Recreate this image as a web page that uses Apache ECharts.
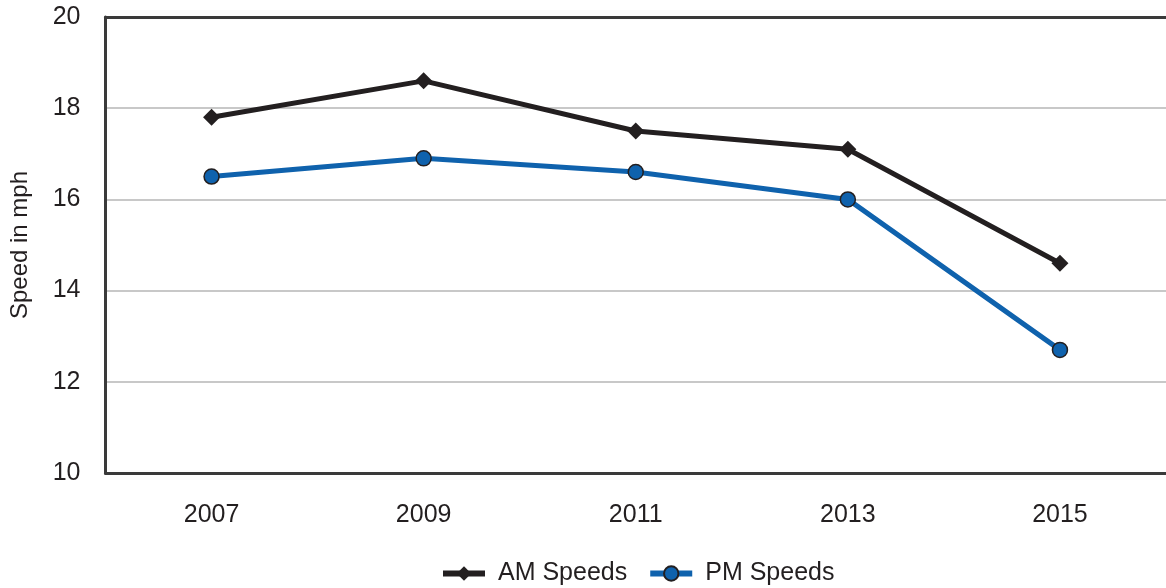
<!DOCTYPE html>
<html>
<head>
<meta charset="utf-8">
<script src="https://cdn.jsdelivr.net/npm/echarts@6/dist/echarts.min.js"></script>
<style>
  html, body { margin: 0; padding: 0; background: #fff; }
  #chart { width: 1166px; height: 588px; }
</style>
</head>
<body>
<div id="chart"></div>
<script>
// data
const years = ['2007', '2009', '2011', '2013', '2015'];
const amSpeeds = [17.8, 18.6, 17.5, 17.1, 14.6];
const pmSpeeds = [16.5, 16.9, 16.6, 16.0, 12.7];
const yTicks = [10, 12, 14, 16, 18, 20];

const font = '"Liberation Sans", Arial, sans-serif';
const textColor = '#231f20';

let myChart = echarts.init(document.getElementById('chart'));
myChart.setOption({
    animation: false,
    textStyle: { fontFamily: font },
    grid: {
        left: 105.5,
        right: -6,
        top: 17,
        bottom: 115,
        containLabel: false
    },
    legend: {
        bottom: -3,
        left: 435,
        itemWidth: 42,
        itemHeight: 18,
        itemGap: 20,
        lineStyle: { width: 6 },
        textStyle: { fontSize: 25, color: textColor, fontFamily: font, padding: [0, 0, 0, 8] },
        data: ['AM Speeds', 'PM Speeds']
    },
    xAxis: [
        {
            type: 'category',
            data: years,
            boundaryGap: true,
            axisLine: { lineStyle: { color: '#3a3a3a', width: 3 } },
            axisTick: { show: false },
            axisLabel: { fontSize: 25, color: textColor, margin: 30 }
        },
        {
            type: 'category',
            data: years,
            position: 'top',
            axisLine: { show: true, onZero: false, lineStyle: { color: '#3a3a3a', width: 3 } },
            axisTick: { show: false },
            axisLabel: { show: false }
        }
    ],
    yAxis: {
        type: 'value',
        min: yTicks[0],
        max: yTicks[yTicks.length - 1],
        interval: 2,
        name: 'Speed in mph',
        nameLocation: 'middle',
        nameGap: 73,
        nameTextStyle: { fontSize: 24, color: textColor },
        axisLine: { show: true, lineStyle: { color: '#3a3a3a', width: 3 } },
        axisTick: { show: false },
        axisLabel: { fontSize: 25, color: textColor, margin: 25 },
        splitLine: { lineStyle: { color: '#c8c8c8', width: 2 } }
    },
    series: [
        {
            name: 'AM Speeds',
            type: 'line',
            data: amSpeeds,
            symbol: 'diamond',
            symbolSize: 17,
            lineStyle: { color: '#231f20', width: 5 },
            itemStyle: { color: '#231f20' }
        },
        {
            name: 'PM Speeds',
            type: 'line',
            data: pmSpeeds,
            symbol: 'circle',
            symbolSize: 15,
            lineStyle: { color: '#0f62ad', width: 5 },
            itemStyle: { color: '#0f62ad', borderColor: '#231f20', borderWidth: 1.5 }
        }
    ]
});
</script>
</body>
</html>
